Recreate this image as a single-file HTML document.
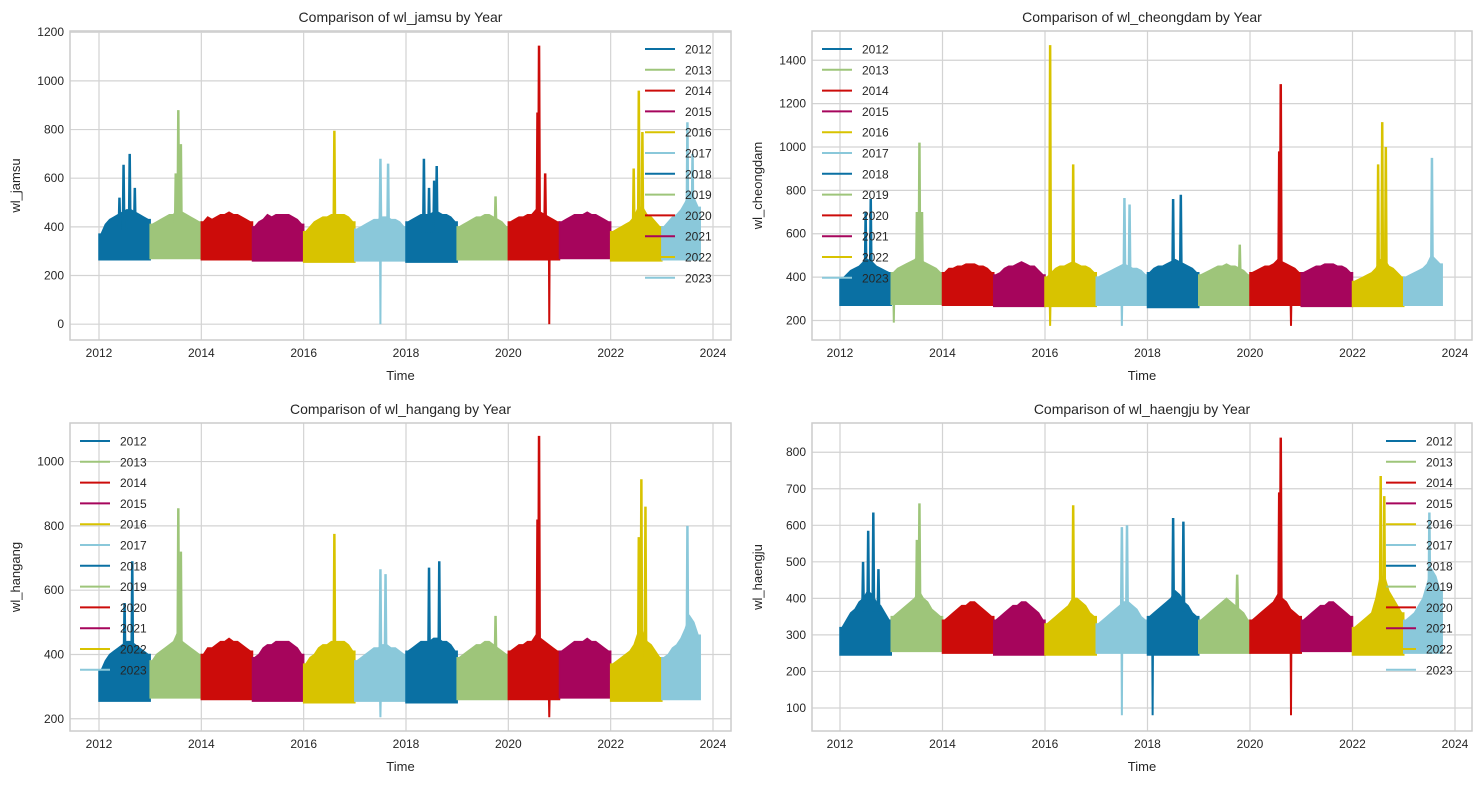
<!DOCTYPE html>
<html><head><meta charset="utf-8"><style>
body{margin:0;background:#fff;font-family:"Liberation Sans","DejaVu Sans",sans-serif}
svg text{font-family:"Liberation Sans","DejaVu Sans",sans-serif;fill:#262626}
</style></head><body>
<svg id="fig" width="1482" height="784"></svg>
<script>
const years=[2012,2013,2014,2015,2016,2017,2018,2019,2020,2021,2022,2023];
const colors=["#0a70a3","#9ec57a","#cc0c0a","#a6055c","#d8c300","#8ac8da","#0a70a3","#9ec57a","#cc0c0a","#a6055c","#d8c300","#8ac8da"];
const xTicks=[2012,2014,2016,2018,2020,2022,2024];
// Panel data: floor per year, monthly tops per year, spikes [time,value]
const jamsuFloor=[265,270,265,260,255,260,255,265,265,270,260,265];
const jamsuTops=[[370,410,430,440,450,460,470,470,460,450,440,430],[410,420,430,440,450,450,480,460,450,440,430,420],[420,440,430,440,450,450,460,450,450,440,430,420],[400,420,430,450,440,450,450,450,450,440,430,410],[380,400,420,430,440,440,450,450,450,450,440,420],[390,400,410,420,430,430,440,440,430,430,420,400],[420,430,440,450,450,450,460,460,450,450,440,420],[400,410,420,430,440,440,450,450,440,430,420,400],[420,430,440,440,450,450,470,460,450,440,430,420],[420,430,440,450,450,450,460,450,450,440,430,420],[380,390,400,410,420,440,480,480,450,440,420,400],[400,420,440,450,470,500,540,520,480]];
const jamsuSpikes=[[2012.4,520],[2012.48,655],[2012.6,700],[2012.7,560],[2013.5,620],[2013.55,880],[2013.6,740],[2016.6,795],[2017.5,680],[2017.65,660],[2018.35,680],[2018.45,560],[2018.55,590],[2018.6,650],[2019.75,525],[2020.6,1145],[2020.57,870],[2020.72,620],[2022.45,640],[2022.55,960],[2022.62,790],[2023.5,830],[2023.6,700]];
const jamsuDips=[[2017.5,0],[2020.8,0]];

const cheongFloor=[270,275,270,265,265,270,260,270,270,265,265,270];
const cheongTops=[[390,410,430,440,450,470,480,470,450,440,430,420],[420,440,450,460,470,480,500,470,460,450,440,420],[420,440,440,450,450,460,460,460,450,450,440,420],[410,420,440,450,450,460,470,460,450,450,430,410],[400,420,440,450,450,460,470,460,450,450,440,420],[400,410,420,430,440,450,460,450,440,440,430,410],[420,440,450,450,460,470,480,470,460,450,440,420],[410,420,430,440,450,450,460,450,450,440,430,410],[420,430,440,450,450,460,480,470,460,450,440,420],[420,430,440,450,450,460,460,460,450,450,440,420],[380,390,400,410,420,440,480,480,450,440,420,400],[400,410,420,430,440,460,500,480,460]];
const cheongSpikes=[[2012.5,700],[2012.6,760],[2013.5,700],[2013.55,1020],[2013.6,700],[2016.1,1470],[2016.55,920],[2017.55,765],[2017.65,735],[2018.5,760],[2018.65,780],[2019.8,550],[2020.6,1290],[2020.57,980],[2022.5,920],[2022.58,1115],[2022.65,1000],[2023.55,950]];
const cheongDips=[[2013.05,190],[2016.1,175],[2017.5,175],[2020.8,175]];

const hangangFloor=[255,265,260,255,250,255,250,260,260,265,255,260];
const hangangTops=[[350,380,400,410,420,430,440,440,430,420,410,400],[380,400,410,420,430,440,470,440,430,420,410,400],[400,420,420,430,440,440,450,440,440,430,420,410],[390,400,420,430,430,440,440,440,440,430,420,400],[370,390,400,420,430,430,440,440,440,440,430,410],[380,390,400,410,420,420,430,430,420,420,410,400],[410,420,430,440,440,440,450,450,440,440,430,410],[390,400,410,420,430,430,440,440,430,420,410,400],[410,420,430,430,440,440,460,450,440,430,420,410],[410,420,430,440,440,440,450,440,440,430,420,410],[370,380,390,400,410,430,470,470,440,430,410,390],[390,400,420,430,450,480,520,500,460]];
const hangangSpikes=[[2012.5,560],[2012.65,690],[2013.55,855],[2013.6,720],[2016.6,775],[2017.5,665],[2017.6,650],[2018.45,670],[2018.65,690],[2019.75,520],[2020.6,1080],[2020.57,820],[2022.55,765],[2022.6,945],[2022.68,860],[2023.5,800]];
const hangangDips=[[2017.5,205],[2020.8,205]];

const haengFloor=[245,255,250,245,245,250,245,250,250,255,245,250];
const haengTops=[[320,340,360,370,390,400,420,410,390,380,360,340],[350,360,370,380,390,400,420,400,390,370,360,350],[340,350,360,370,380,380,390,390,380,370,360,350],[340,350,360,370,380,380,390,390,380,370,360,340],[330,340,350,360,370,380,400,400,390,380,360,350],[330,340,350,360,370,380,390,390,380,370,350,340],[350,360,370,380,390,400,420,410,390,380,360,350],[340,350,360,370,380,390,400,390,380,370,360,340],[340,350,360,370,380,390,410,400,390,370,360,350],[340,350,360,370,380,380,390,390,380,370,360,350],[320,330,340,350,360,400,460,460,420,400,380,360],[340,350,360,380,400,440,480,460,420]];
const haengSpikes=[[2012.45,500],[2012.55,585],[2012.65,635],[2012.75,480],[2013.5,560],[2013.55,660],[2016.55,655],[2017.5,595],[2017.6,600],[2018.5,620],[2018.7,610],[2019.75,465],[2020.6,840],[2020.57,690],[2022.55,735],[2022.62,680],[2023.5,635]];
const haengDips=[[2017.5,80],[2018.1,80],[2020.8,80]];

const NS="http://www.w3.org/2000/svg";
const svg=document.getElementById('fig');
function mk(tag,attrs,parent){const e=document.createElementNS(NS,tag);for(const k in attrs)e.setAttribute(k,attrs[k]);(parent||svg).appendChild(e);return e;}

const panels=[
 {key:"jamsu",title:"Comparison of wl_jamsu by Year",ylab:"wl_jamsu",x0:70,x1:731,y0:31,y1:340,ymin:-65,ymax:1205,yt:[0,200,400,600,800,1000,1200],fl:jamsuFloor,tp:jamsuTops,sp:jamsuSpikes,dp:jamsuDips,leg:"right"},
 {key:"cheongdam",title:"Comparison of wl_cheongdam by Year",ylab:"wl_cheongdam",x0:812,x1:1472,y0:31,y1:340,ymin:110,ymax:1535,yt:[200,400,600,800,1000,1200,1400],fl:cheongFloor,tp:cheongTops,sp:cheongSpikes,dp:cheongDips,leg:"left"},
 {key:"hangang",title:"Comparison of wl_hangang by Year",ylab:"wl_hangang",x0:70,x1:731,y0:423,y1:731,ymin:162,ymax:1120,yt:[200,400,600,800,1000],fl:hangangFloor,tp:hangangTops,sp:hangangSpikes,dp:hangangDips,leg:"left"},
 {key:"haengju",title:"Comparison of wl_haengju by Year",ylab:"wl_haengju",x0:812,x1:1472,y0:423,y1:731,ymin:37,ymax:880,yt:[100,200,300,400,500,600,700,800],fl:haengFloor,tp:haengTops,sp:haengSpikes,dp:haengDips,leg:"right"}
];

panels.forEach(p=>{
 const g=mk('g',{});
 
 
 const px0=p.key==="cheongdam"||p.key==="haengju"?840:99;
 const px1=p.key==="cheongdam"||p.key==="haengju"?1455:713;
 const X=t=>px0+(t-2012)/12*(px1-px0);
 const Y=v=>p.y1-(v-p.ymin)/(p.ymax-p.ymin)*(p.y1-p.y0);
 xTicks.forEach(t=>{
  const l=mk('line',{x1:X(t),x2:X(t),y1:p.y0,y2:p.y1,stroke:"#d3d3d3","stroke-width":1.2},g);
  
  
  const tx=mk('text',{x:X(t),y:p.y1+17,"font-size":12,"text-anchor":"middle"},g);
  tx.textContent=t;
  
  
 });
 p.yt.forEach(v=>{
  const l=mk('line',{x1:p.x0,x2:p.x1,y1:Y(v),y2:Y(v),stroke:"#d3d3d3","stroke-width":1.2},g);
  
  
  const tx=mk('text',{x:p.x0-6,y:Y(v)+4,"font-size":12,"text-anchor":"end"},g);
  tx.textContent=v;
  
  
 });
 years.forEach((yr,i)=>{
  const tops=p.tp[i], fl=p.fl[i], c=colors[i];
  const n=tops.length;
  let pts=[[X(yr),Y(fl)],[X(yr),Y(tops[0])]];
  tops.forEach((v,m)=>{pts.push([X(yr+(m+0.5)/12),Y(v)]);});
  pts.push([X(yr+n/12),Y(tops[n-1])],[X(yr+n/12),Y(fl)]);
  const poly=mk('polygon',{points:pts.map(q=>q.join(',')).join(' '),fill:c,stroke:c,"stroke-width":1.5},g);
  
  
 });
 const colorAt=t=>colors[Math.min(11,Math.floor(t)-2012)];
 p.sp.forEach(s=>{
  const t=s[0],base=p.fl[Math.floor(t)-2012]+120;
  const pl=mk('polyline',{points:`${X(t-0.014)},${Y(base)} ${X(t)},${Y(s[1])} ${X(t+0.014)},${Y(base)}`,fill:colorAt(t),stroke:colorAt(t),"stroke-width":2.5},g);
  
  
 });
 p.dp.forEach(s=>{
  const t=s[0],base=p.fl[Math.floor(t)-2012];
  const pl=mk('polyline',{points:`${X(t-0.006)},${Y(base)} ${X(t)},${Y(s[1])} ${X(t+0.006)},${Y(base)}`,fill:"none",stroke:colorAt(t),"stroke-width":2},g);
  
  
 });
 const fr=mk('rect',{x:p.x0,y:p.y0,width:p.x1-p.x0,height:p.y1-p.y0,fill:"none",stroke:"#cccccc","stroke-width":1.5},g);
 
 
 const ti=mk('text',{x:(p.x0+p.x1)/2,y:p.y0-9,"font-size":14,"text-anchor":"middle"},g);
 ti.textContent=p.title;
 
 
 const xl=mk('text',{x:(p.x0+p.x1)/2,y:p.y1+40,"font-size":13,"text-anchor":"middle"},g);
 xl.textContent="Time";
 
 
 const yx=p.x0-50, yy=(p.y0+p.y1)/2;
 const yl=mk('text',{x:yx,y:yy,"font-size":13,"text-anchor":"middle",transform:`rotate(-90 ${yx} ${yy})`},g);
 yl.textContent=p.ylab;
 
 
 const lx=p.leg==="right"?p.x1-86:p.x0+10;
 years.forEach((yr,i)=>{
  const ly=p.y0+18+i*20.8;
  const ll=mk('line',{x1:lx,x2:lx+30,y1:ly,y2:ly,stroke:colors[i],"stroke-width":2},g);
  
  
  const lt=mk('text',{x:lx+40,y:ly+4.5,"font-size":12},g);
  lt.textContent=yr;
  
  
 });
});
</script>
</body></html>
